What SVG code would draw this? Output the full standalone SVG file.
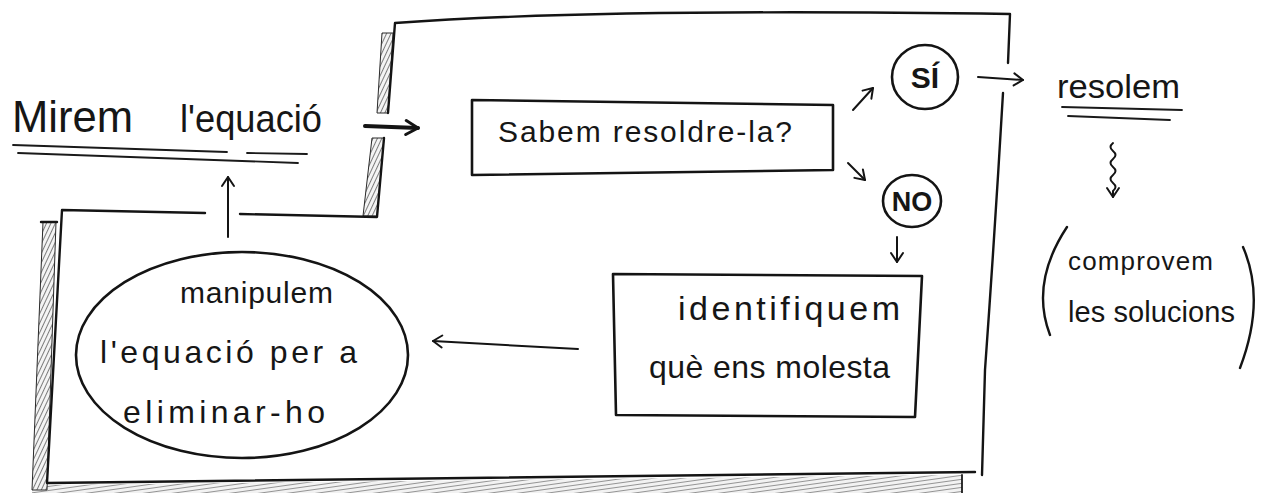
<svg xmlns="http://www.w3.org/2000/svg" width="1261" height="493" viewBox="0 0 1261 493">
  <defs>
    <style>
      .ink { fill: none; stroke: #141414; stroke-width: 2.4; stroke-linecap: round; stroke-linejoin: round; }
      .thin { fill: none; stroke: #1a1a1a; stroke-width: 1.8; stroke-linecap: round; stroke-linejoin: round; }
      .box { fill: #ffffff; stroke: #141414; stroke-width: 2.6; stroke-linejoin: round; }
      .txt { font-family: "Liberation Sans", "DejaVu Sans", sans-serif; fill: #161616; }
      .arrow { fill: none; stroke: #141414; stroke-width: 2; stroke-linecap: round; marker-end: url(#chev); }
      .arrow-bold { fill: none; stroke: #141414; stroke-width: 4; stroke-linecap: round; marker-end: url(#chevBold); }
      .hatch-v { fill: url(#hatchSteep); stroke: #2a2a2a; stroke-width: 1; }
      .hatch-h { fill: url(#hatchFlat); stroke: none; }
    </style>
    <pattern id="hatchSteep" width="4" height="4" patternUnits="userSpaceOnUse" patternTransform="rotate(25)">
      <rect width="4" height="4" fill="#f4f4f4"/>
      <line x1="0" y1="0" x2="0" y2="4" stroke="#3a3a3a" stroke-width="1.3"/>
    </pattern>
    <pattern id="hatchFlat" width="6" height="4" patternUnits="userSpaceOnUse" patternTransform="rotate(-8)">
      <rect width="6" height="4" fill="#f2f2f2"/>
      <line x1="0" y1="0" x2="6" y2="0" stroke="#555" stroke-width="1.2"/>
    </pattern>
    <marker id="chev" viewBox="-12 -8 14 16" markerWidth="14" markerHeight="16" refX="0" refY="0" orient="auto" markerUnits="userSpaceOnUse">
      <path d="M -9,-6 L 0,0 L -9,6" fill="none" stroke="#141414" stroke-width="2" stroke-linecap="round" stroke-linejoin="round"/>
    </marker>
    <marker id="chevBold" viewBox="-16 -10 18 20" markerWidth="18" markerHeight="20" refX="0" refY="0" orient="auto" markerUnits="userSpaceOnUse">
      <path d="M -12,-7 L 0,0 L -12,7" fill="none" stroke="#141414" stroke-width="3" stroke-linecap="round" stroke-linejoin="round"/>
    </marker>
  </defs>

  <rect width="1261" height="493" fill="#ffffff"/>

  <!-- outer frame with its hatched shadow -->
  <g id="frame">
    <polygon class="hatch-h" points="32,490 47,485 962,475 962,493 32,493"/>
    <line class="thin" x1="962" y1="475" x2="962" y2="493"/>
    <polygon class="hatch-v" points="43,222 56,222 47,490 32,490"/>
    <line class="ink" x1="41" y1="222" x2="57" y2="222"/>
    <polygon class="hatch-v" points="382,33 393,33 388,113 377,113"/>
    <polygon class="hatch-v" points="372,138 384,138 377,216 363,216"/>
    <path class="ink" d="M 205,213 L 62,210 L 47,483 L 975,472"/>
    <path class="ink" d="M 388,113 L 395,23 Q 600,8 1010,14 L 1008,63"/>
    <path class="ink" d="M 1003,93 Q 995,230 985,370 L 982,475"/>
    <path class="ink" d="M 384,138 L 377,217 L 240,214"/>
  </g>

  <!-- title -->
  <g id="mirem">
    <text class="txt" x="12" y="132" font-size="44" textLength="121" lengthAdjust="spacingAndGlyphs">Mirem</text>
    <text class="txt" x="180" y="132" font-size="39" textLength="142" lengthAdjust="spacingAndGlyphs">l'equació</text>
    <path class="thin" d="M 13,145 L 227,152 M 247,153 L 307,154 M 18,153 L 298,163"/>
  </g>

  <g id="sabem">
    <path class="box" d="M 472,100 L 833,105 L 833,170 L 472,175 Z"/>
    <text class="txt" x="498" y="142" font-size="30" textLength="294" lengthAdjust="spacing">Sabem resoldre-la?</text>
  </g>

  <g id="si">
    <ellipse class="box" cx="925" cy="77" rx="33" ry="32"/>
    <text class="txt" x="925" y="88" font-size="30" font-weight="bold" text-anchor="middle">SÍ</text>
  </g>

  <g id="no">
    <ellipse class="box" cx="912" cy="201" rx="29" ry="26"/>
    <text class="txt" x="912" y="211" font-size="27" font-weight="bold" text-anchor="middle">NO</text>
  </g>

  <g id="resolem">
    <text class="txt" x="1057" y="98" font-size="34" textLength="123" lengthAdjust="spacingAndGlyphs">resolem</text>
    <path class="thin" d="M 1062,107 L 1182,110 M 1068,116 L 1170,120"/>
  </g>

  <g id="comprovem">
    <path class="ink" d="M 1067,227 Q 1030,283 1050,335"/>
    <path class="ink" d="M 1243,247 Q 1266,300 1240,368"/>
    <text class="txt" x="1068" y="270" font-size="26" textLength="145" lengthAdjust="spacing">comprovem</text>
    <text class="txt" x="1068" y="322" font-size="29" textLength="167" lengthAdjust="spacing">les solucions</text>
  </g>

  <g id="identifiquem">
    <path class="box" d="M 613,274 L 922,276 L 915,417 L 616,415 Z"/>
    <text class="txt" x="678" y="320" font-size="34" textLength="222" lengthAdjust="spacing">identifiquem</text>
    <text class="txt" x="649" y="378" font-size="32" textLength="241" lengthAdjust="spacing">què ens molesta</text>
  </g>

  <g id="manipulem">
    <ellipse class="box" cx="242" cy="355" rx="166" ry="103"/>
    <text class="txt" x="180" y="303" font-size="30" textLength="153" lengthAdjust="spacing">manipulem</text>
    <text class="txt" x="100" y="363" font-size="32" textLength="257" lengthAdjust="spacing">l'equació per a</text>
    <text class="txt" x="123" y="423" font-size="32" textLength="202" lengthAdjust="spacing">eliminar-ho</text>
  </g>

  <g id="connectors">
    <path class="arrow-bold" d="M 365,126 L 418,128"/>
    <path class="arrow" d="M 853,110 L 873,88"/>
    <path class="arrow" d="M 848,163 L 865,180"/>
    <path class="arrow" d="M 978,77 L 1023,80"/>
    <path class="arrow" d="M 897,237 L 897,262"/>
    <path class="arrow" d="M 578,349 L 433,341"/>
    <path class="arrow" d="M 228,237 L 228,177"/>
    <path class="arrow" d="M 1113,143 q -5,4 0,8 q 5,4 0,8 q -5,4 0,8 q 5,4 0,8 q -5,4 0,8 q 5,4 0,8 L 1113,197"/>
  </g>
</svg>
